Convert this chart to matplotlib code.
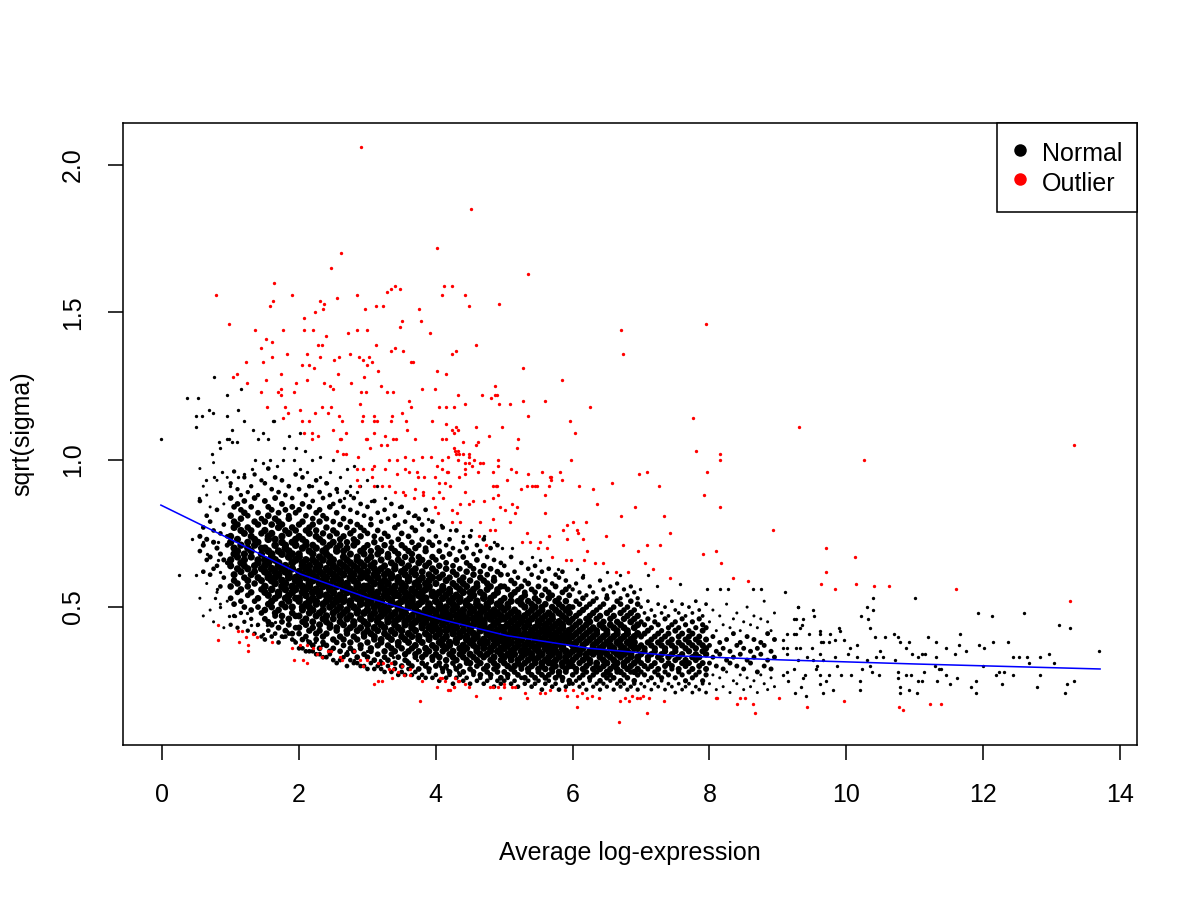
import numpy as np
import matplotlib
matplotlib.use("Agg")
import matplotlib.pyplot as plt
from matplotlib.lines import Line2D

plt.rcParams["font.family"] = ["Liberation Sans", "DejaVu Sans"]
plt.rcParams["font.size"] = 12

# dense body of the normal genes, read off column by column:
# (average log-expression, [sqrt(sigma) values in that column])
core_cols = [
    (0.55, [0.53, 0.69, 0.74, 0.86, 0.97]),
    (0.60, [0.47, 0.62, 0.71, 0.77, 0.91]),
    (0.65, [0.58, 0.66, 0.73, 0.81, 0.88]),
    (0.70, [0.49, 0.61, 0.67, 0.79, 0.84]),
    (0.75, [0.45, 0.63, 0.72, 0.76, 0.99]),
    (0.80, [0.55, 0.64, 0.70, 0.83, 0.93]),
    (0.85, [0.51, 0.57, 0.68, 0.75, 0.89]),
    (0.90, [0.43, 0.60, 0.66, 0.78, 0.85]),
    (0.95, [0.52, 0.65, 0.71, 0.74, 0.94]),
    (1.00, [0.44, 0.53, 0.57, 0.64, 0.66, 0.72, 0.74, 0.81, 0.87, 0.92]),
    (1.05, [0.47, 0.51, 0.59, 0.61, 0.68, 0.70, 0.77, 0.79, 0.84, 0.96]),
    (1.10, [0.43, 0.55, 0.58, 0.63, 0.67, 0.69, 0.73, 0.78, 0.85, 0.90]),
    (1.15, [0.48, 0.52, 0.56, 0.62, 0.65, 0.71, 0.76, 0.80, 0.83, 0.88]),
    (1.20, [0.45, 0.50, 0.60, 0.64, 0.66, 0.68, 0.75, 0.82, 0.86, 0.94]),
    (1.25, [0.42, 0.54, 0.57, 0.59, 0.63, 0.70, 0.72, 0.77, 0.81, 0.89]),
    (1.30, [0.46, 0.49, 0.55, 0.61, 0.67, 0.69, 0.74, 0.76, 0.84, 0.91]),
    (1.35, [0.41, 0.52, 0.58, 0.62, 0.64, 0.71, 0.73, 0.79, 0.87, 0.95]),
    (1.40, [0.44, 0.50, 0.53, 0.60, 0.65, 0.66, 0.72, 0.78, 0.82, 0.88]),
    (1.45, [0.40, 0.48, 0.56, 0.59, 0.63, 0.68, 0.70, 0.75, 0.80, 0.93]),
    (1.50, [0.39, 0.46, 0.49, 0.55, 0.57, 0.62, 0.64, 0.66, 0.70, 0.76, 0.79, 0.86, 0.92]),
    (1.55, [0.42, 0.45, 0.51, 0.54, 0.60, 0.61, 0.65, 0.69, 0.73, 0.74, 0.81, 0.84, 0.97]),
    (1.60, [0.40, 0.44, 0.50, 0.52, 0.56, 0.59, 0.63, 0.67, 0.68, 0.75, 0.78, 0.83, 0.90]),
    (1.65, [0.41, 0.47, 0.48, 0.53, 0.58, 0.60, 0.62, 0.66, 0.71, 0.73, 0.80, 0.87, 0.94]),
    (1.70, [0.38, 0.43, 0.49, 0.54, 0.55, 0.61, 0.64, 0.65, 0.69, 0.77, 0.79, 0.82, 0.89]),
    (1.75, [0.40, 0.45, 0.47, 0.51, 0.57, 0.59, 0.63, 0.68, 0.72, 0.74, 0.78, 0.85, 0.93]),
    (1.80, [0.40, 0.42, 0.50, 0.53, 0.56, 0.58, 0.62, 0.64, 0.70, 0.71, 0.76, 0.83, 0.88]),
    (1.85, [0.41, 0.44, 0.46, 0.52, 0.54, 0.60, 0.61, 0.67, 0.69, 0.75, 0.80, 0.81, 0.91]),
    (1.90, [0.39, 0.41, 0.48, 0.50, 0.55, 0.57, 0.63, 0.65, 0.68, 0.72, 0.77, 0.84, 0.87]),
    (1.95, [0.38, 0.43, 0.47, 0.53, 0.56, 0.59, 0.60, 0.66, 0.71, 0.73, 0.76, 0.82, 0.95]),
    (2.00, [0.36, 0.41, 0.43, 0.47, 0.52, 0.53, 0.58, 0.59, 0.62, 0.67, 0.68, 0.74, 0.78, 0.83, 0.90]),
    (2.05, [0.36, 0.39, 0.45, 0.49, 0.50, 0.55, 0.57, 0.61, 0.64, 0.65, 0.70, 0.73, 0.79, 0.85, 0.94]),
    (2.10, [0.35, 0.40, 0.44, 0.46, 0.51, 0.54, 0.56, 0.60, 0.63, 0.66, 0.71, 0.72, 0.76, 0.81, 0.88]),
    (2.15, [0.35, 0.38, 0.42, 0.48, 0.50, 0.52, 0.57, 0.58, 0.62, 0.64, 0.69, 0.75, 0.77, 0.84, 0.91]),
    (2.20, [0.35, 0.37, 0.43, 0.45, 0.49, 0.53, 0.55, 0.59, 0.61, 0.66, 0.68, 0.71, 0.78, 0.80, 0.86]),
    (2.25, [0.34, 0.39, 0.41, 0.47, 0.51, 0.52, 0.56, 0.60, 0.63, 0.65, 0.70, 0.74, 0.76, 0.82, 0.93]),
    (2.30, [0.34, 0.36, 0.42, 0.44, 0.48, 0.54, 0.55, 0.58, 0.62, 0.64, 0.67, 0.73, 0.79, 0.83, 0.89]),
    (2.35, [0.33, 0.38, 0.40, 0.46, 0.49, 0.51, 0.57, 0.59, 0.61, 0.66, 0.69, 0.72, 0.75, 0.81, 0.87]),
    (2.40, [0.33, 0.37, 0.41, 0.45, 0.47, 0.52, 0.54, 0.58, 0.60, 0.63, 0.68, 0.70, 0.77, 0.80, 0.92]),
    (2.45, [0.34, 0.35, 0.43, 0.44, 0.50, 0.53, 0.56, 0.57, 0.62, 0.65, 0.67, 0.71, 0.74, 0.84, 0.88]),
    (2.50, [0.32, 0.36, 0.39, 0.46, 0.48, 0.51, 0.55, 0.59, 0.61, 0.64, 0.66, 0.72, 0.76, 0.79, 0.85]),
    (2.55, [0.31, 0.38, 0.42, 0.43, 0.49, 0.52, 0.53, 0.57, 0.60, 0.63, 0.69, 0.70, 0.75, 0.82, 0.90]),
    (2.60, [0.32, 0.35, 0.40, 0.45, 0.47, 0.50, 0.54, 0.58, 0.59, 0.62, 0.65, 0.71, 0.73, 0.78, 0.86]),
    (2.65, [0.33, 0.37, 0.39, 0.44, 0.48, 0.52, 0.53, 0.56, 0.61, 0.64, 0.67, 0.69, 0.74, 0.80, 0.84]),
    (2.70, [0.30, 0.34, 0.41, 0.42, 0.46, 0.49, 0.55, 0.57, 0.58, 0.63, 0.66, 0.70, 0.72, 0.77, 0.89]),
    (2.75, [0.32, 0.36, 0.38, 0.43, 0.47, 0.51, 0.52, 0.56, 0.60, 0.62, 0.65, 0.68, 0.75, 0.79, 0.83]),
    (2.80, [0.31, 0.35, 0.40, 0.44, 0.45, 0.50, 0.54, 0.55, 0.59, 0.61, 0.64, 0.71, 0.73, 0.76, 0.87]),
    (2.85, [0.31, 0.33, 0.39, 0.42, 0.48, 0.49, 0.53, 0.57, 0.58, 0.63, 0.66, 0.67, 0.72, 0.78, 0.82]),
    (2.90, [0.30, 0.36, 0.37, 0.43, 0.46, 0.51, 0.52, 0.55, 0.60, 0.62, 0.65, 0.69, 0.74, 0.77, 0.85]),
    (2.95, [0.30, 0.34, 0.40, 0.41, 0.45, 0.48, 0.54, 0.56, 0.57, 0.61, 0.64, 0.68, 0.70, 0.76, 0.81]),
    (3.00, [0.29, 0.33, 0.38, 0.42, 0.44, 0.49, 0.51, 0.53, 0.57, 0.60, 0.62, 0.66, 0.71, 0.75, 0.84]),
    (3.05, [0.31, 0.35, 0.36, 0.41, 0.46, 0.47, 0.52, 0.55, 0.56, 0.59, 0.64, 0.67, 0.69, 0.78, 0.80]),
    (3.10, [0.29, 0.32, 0.39, 0.40, 0.43, 0.48, 0.50, 0.54, 0.58, 0.61, 0.63, 0.65, 0.72, 0.74, 0.86]),
    (3.15, [0.30, 0.34, 0.37, 0.42, 0.45, 0.46, 0.51, 0.53, 0.55, 0.60, 0.62, 0.68, 0.70, 0.76, 0.82]),
    (3.20, [0.29, 0.31, 0.38, 0.39, 0.44, 0.47, 0.49, 0.52, 0.57, 0.58, 0.63, 0.66, 0.69, 0.73, 0.79]),
    (3.25, [0.28, 0.33, 0.35, 0.41, 0.43, 0.48, 0.50, 0.54, 0.56, 0.59, 0.61, 0.64, 0.71, 0.75, 0.83]),
    (3.30, [0.30, 0.32, 0.37, 0.40, 0.45, 0.46, 0.49, 0.53, 0.55, 0.58, 0.62, 0.67, 0.68, 0.74, 0.80]),
    (3.35, [0.28, 0.34, 0.36, 0.39, 0.42, 0.47, 0.51, 0.52, 0.56, 0.60, 0.61, 0.65, 0.70, 0.72, 0.85]),
    (3.40, [0.29, 0.31, 0.35, 0.41, 0.44, 0.45, 0.48, 0.54, 0.55, 0.57, 0.63, 0.64, 0.69, 0.77, 0.81]),
    (3.45, [0.27, 0.33, 0.37, 0.38, 0.43, 0.46, 0.50, 0.51, 0.54, 0.59, 0.60, 0.66, 0.68, 0.73, 0.78]),
    (3.50, [0.28, 0.30, 0.36, 0.40, 0.42, 0.47, 0.49, 0.52, 0.56, 0.58, 0.62, 0.65, 0.71, 0.75, 0.84]),
    (3.55, [0.27, 0.32, 0.34, 0.39, 0.44, 0.45, 0.48, 0.53, 0.55, 0.57, 0.61, 0.63, 0.67, 0.70, 0.79]),
    (3.60, [0.29, 0.31, 0.35, 0.38, 0.41, 0.46, 0.50, 0.51, 0.54, 0.59, 0.60, 0.64, 0.69, 0.74, 0.82]),
    (3.65, [0.27, 0.30, 0.36, 0.40, 0.43, 0.44, 0.47, 0.52, 0.53, 0.56, 0.62, 0.66, 0.68, 0.72, 0.77]),
    (3.70, [0.28, 0.33, 0.34, 0.37, 0.42, 0.45, 0.49, 0.50, 0.55, 0.58, 0.61, 0.63, 0.70, 0.76, 0.81]),
    (3.75, [0.26, 0.29, 0.35, 0.39, 0.40, 0.46, 0.48, 0.51, 0.54, 0.57, 0.59, 0.65, 0.67, 0.71, 0.80]),
    (3.80, [0.27, 0.31, 0.33, 0.38, 0.43, 0.44, 0.47, 0.52, 0.53, 0.55, 0.60, 0.62, 0.66, 0.73, 0.78]),
    (3.85, [0.26, 0.30, 0.34, 0.36, 0.41, 0.45, 0.46, 0.49, 0.53, 0.56, 0.58, 0.64, 0.69, 0.70, 0.83]),
    (3.90, [0.28, 0.29, 0.35, 0.39, 0.40, 0.43, 0.48, 0.50, 0.51, 0.57, 0.59, 0.61, 0.65, 0.72, 0.76]),
    (3.95, [0.26, 0.32, 0.33, 0.37, 0.42, 0.44, 0.46, 0.49, 0.54, 0.55, 0.60, 0.63, 0.67, 0.71, 0.79]),
    (4.00, [0.27, 0.30, 0.34, 0.36, 0.40, 0.43, 0.45, 0.48, 0.52, 0.54, 0.58, 0.62, 0.66, 0.74]),
    (4.05, [0.25, 0.31, 0.33, 0.38, 0.41, 0.42, 0.46, 0.50, 0.51, 0.55, 0.60, 0.64, 0.69, 0.72]),
    (4.10, [0.28, 0.29, 0.35, 0.37, 0.39, 0.44, 0.47, 0.49, 0.53, 0.56, 0.57, 0.61, 0.67, 0.77]),
    (4.15, [0.26, 0.30, 0.32, 0.36, 0.40, 0.42, 0.45, 0.48, 0.50, 0.54, 0.59, 0.63, 0.65, 0.71]),
    (4.20, [0.27, 0.28, 0.34, 0.37, 0.38, 0.43, 0.46, 0.47, 0.52, 0.55, 0.56, 0.60, 0.68, 0.73]),
    (4.25, [0.24, 0.31, 0.33, 0.35, 0.41, 0.42, 0.44, 0.49, 0.51, 0.53, 0.58, 0.62, 0.64, 0.70]),
    (4.30, [0.26, 0.29, 0.32, 0.38, 0.39, 0.43, 0.45, 0.47, 0.50, 0.54, 0.57, 0.61, 0.66, 0.76]),
    (4.35, [0.27, 0.30, 0.34, 0.36, 0.40, 0.41, 0.46, 0.48, 0.52, 0.53, 0.56, 0.59, 0.63, 0.69]),
    (4.40, [0.25, 0.28, 0.33, 0.35, 0.37, 0.42, 0.44, 0.47, 0.49, 0.55, 0.58, 0.60, 0.67, 0.72]),
    (4.45, [0.26, 0.31, 0.32, 0.36, 0.39, 0.40, 0.45, 0.46, 0.51, 0.52, 0.57, 0.62, 0.65, 0.70]),
    (4.50, [0.24, 0.29, 0.31, 0.34, 0.38, 0.42, 0.43, 0.48, 0.50, 0.53, 0.55, 0.59, 0.64, 0.74]),
    (4.55, [0.27, 0.28, 0.33, 0.37, 0.39, 0.41, 0.44, 0.46, 0.49, 0.54, 0.56, 0.61, 0.63, 0.68]),
    (4.60, [0.25, 0.30, 0.32, 0.35, 0.36, 0.40, 0.45, 0.47, 0.51, 0.52, 0.57, 0.58, 0.66, 0.71]),
    (4.65, [0.26, 0.27, 0.31, 0.34, 0.38, 0.42, 0.43, 0.46, 0.48, 0.50, 0.55, 0.60, 0.62, 0.69]),
    (4.70, [0.24, 0.29, 0.33, 0.36, 0.37, 0.39, 0.44, 0.45, 0.49, 0.53, 0.54, 0.59, 0.64, 0.73]),
    (4.75, [0.25, 0.28, 0.30, 0.34, 0.38, 0.41, 0.42, 0.47, 0.50, 0.51, 0.56, 0.58, 0.61, 0.67]),
    (4.80, [0.26, 0.27, 0.32, 0.35, 0.36, 0.40, 0.43, 0.46, 0.48, 0.52, 0.53, 0.57, 0.63, 0.70]),
    (4.85, [0.23, 0.29, 0.31, 0.33, 0.37, 0.39, 0.41, 0.44, 0.47, 0.49, 0.54, 0.59, 0.60, 0.66]),
    (4.90, [0.25, 0.28, 0.30, 0.35, 0.38, 0.40, 0.42, 0.45, 0.48, 0.51, 0.55, 0.56, 0.62, 0.71]),
    (4.95, [0.24, 0.26, 0.32, 0.34, 0.36, 0.39, 0.43, 0.46, 0.47, 0.50, 0.52, 0.57, 0.61, 0.65]),
    (5.00, [0.25, 0.28, 0.31, 0.33, 0.36, 0.38, 0.41, 0.43, 0.46, 0.49, 0.53, 0.57, 0.64]),
    (5.05, [0.26, 0.27, 0.30, 0.34, 0.37, 0.39, 0.40, 0.44, 0.47, 0.50, 0.51, 0.56, 0.61]),
    (5.10, [0.24, 0.29, 0.32, 0.33, 0.35, 0.38, 0.42, 0.45, 0.48, 0.52, 0.54, 0.59, 0.67]),
    (5.15, [0.25, 0.28, 0.30, 0.34, 0.36, 0.40, 0.41, 0.43, 0.46, 0.49, 0.55, 0.58, 0.62]),
    (5.20, [0.23, 0.27, 0.31, 0.32, 0.37, 0.38, 0.42, 0.44, 0.47, 0.48, 0.52, 0.56, 0.60]),
    (5.25, [0.26, 0.29, 0.30, 0.33, 0.35, 0.39, 0.40, 0.45, 0.46, 0.51, 0.53, 0.57, 0.65]),
    (5.30, [0.24, 0.26, 0.31, 0.34, 0.36, 0.37, 0.41, 0.43, 0.47, 0.50, 0.54, 0.55, 0.59]),
    (5.35, [0.25, 0.28, 0.29, 0.32, 0.35, 0.38, 0.40, 0.44, 0.45, 0.48, 0.52, 0.58, 0.63]),
    (5.40, [0.23, 0.27, 0.30, 0.33, 0.34, 0.37, 0.41, 0.42, 0.46, 0.49, 0.51, 0.56, 0.61]),
    (5.45, [0.24, 0.26, 0.31, 0.32, 0.36, 0.39, 0.40, 0.43, 0.47, 0.50, 0.53, 0.55, 0.64]),
    (5.50, [0.25, 0.28, 0.29, 0.33, 0.35, 0.37, 0.41, 0.44, 0.45, 0.48, 0.52, 0.57, 0.60]),
    (5.55, [0.22, 0.27, 0.30, 0.31, 0.34, 0.38, 0.39, 0.42, 0.46, 0.49, 0.50, 0.54, 0.62]),
    (5.60, [0.24, 0.26, 0.29, 0.32, 0.36, 0.37, 0.40, 0.43, 0.44, 0.47, 0.51, 0.56, 0.59]),
    (5.65, [0.25, 0.27, 0.31, 0.33, 0.35, 0.38, 0.41, 0.42, 0.45, 0.48, 0.53, 0.55, 0.63]),
    (5.70, [0.23, 0.28, 0.29, 0.31, 0.34, 0.36, 0.39, 0.43, 0.46, 0.47, 0.50, 0.54, 0.58]),
    (5.75, [0.24, 0.26, 0.30, 0.32, 0.35, 0.37, 0.40, 0.41, 0.44, 0.49, 0.52, 0.57, 0.61]),
    (5.80, [0.22, 0.27, 0.28, 0.33, 0.34, 0.38, 0.39, 0.42, 0.45, 0.48, 0.51, 0.53, 0.60]),
    (5.85, [0.25, 0.26, 0.30, 0.31, 0.36, 0.37, 0.40, 0.43, 0.44, 0.47, 0.50, 0.55, 0.62]),
    (5.90, [0.23, 0.28, 0.29, 0.32, 0.33, 0.35, 0.39, 0.41, 0.46, 0.49, 0.52, 0.56, 0.59]),
    (5.95, [0.24, 0.25, 0.30, 0.31, 0.34, 0.38, 0.40, 0.42, 0.45, 0.48, 0.50, 0.54, 0.57]),
    (6.00, [0.24, 0.27, 0.30, 0.32, 0.35, 0.37, 0.40, 0.43, 0.46, 0.50, 0.56]),
    (6.05, [0.25, 0.28, 0.29, 0.33, 0.36, 0.38, 0.41, 0.44, 0.47, 0.52, 0.58]),
    (6.10, [0.23, 0.26, 0.31, 0.34, 0.35, 0.39, 0.42, 0.45, 0.48, 0.51, 0.55]),
    (6.15, [0.24, 0.27, 0.29, 0.32, 0.36, 0.37, 0.40, 0.43, 0.49, 0.53, 0.60]),
    (6.20, [0.22, 0.28, 0.30, 0.33, 0.34, 0.38, 0.41, 0.44, 0.46, 0.50, 0.54]),
    (6.25, [0.25, 0.26, 0.31, 0.32, 0.35, 0.39, 0.42, 0.45, 0.47, 0.51, 0.57]),
    (6.30, [0.23, 0.27, 0.29, 0.34, 0.36, 0.37, 0.40, 0.43, 0.48, 0.52, 0.55]),
    (6.35, [0.24, 0.28, 0.30, 0.31, 0.35, 0.38, 0.41, 0.42, 0.46, 0.49, 0.53]),
    (6.40, [0.22, 0.25, 0.29, 0.33, 0.34, 0.36, 0.39, 0.44, 0.47, 0.50, 0.59]),
    (6.45, [0.24, 0.27, 0.30, 0.32, 0.35, 0.37, 0.40, 0.43, 0.45, 0.51, 0.56]),
    (6.50, [0.23, 0.26, 0.28, 0.31, 0.34, 0.38, 0.41, 0.42, 0.48, 0.53, 0.54]),
    (6.55, [0.25, 0.27, 0.29, 0.33, 0.36, 0.37, 0.39, 0.44, 0.46, 0.49, 0.57]),
    (6.60, [0.22, 0.26, 0.30, 0.32, 0.35, 0.36, 0.40, 0.43, 0.47, 0.50, 0.55]),
    (6.65, [0.24, 0.28, 0.29, 0.31, 0.34, 0.38, 0.41, 0.42, 0.45, 0.52, 0.58]),
    (6.70, [0.23, 0.25, 0.28, 0.33, 0.35, 0.37, 0.39, 0.44, 0.48, 0.51, 0.53]),
    (6.75, [0.24, 0.27, 0.30, 0.31, 0.34, 0.36, 0.40, 0.43, 0.46, 0.49, 0.56]),
    (6.80, [0.22, 0.26, 0.29, 0.32, 0.35, 0.38, 0.41, 0.42, 0.47, 0.50, 0.54]),
    (6.85, [0.23, 0.28, 0.30, 0.33, 0.34, 0.37, 0.39, 0.45, 0.48, 0.52, 0.57]),
    (6.90, [0.24, 0.25, 0.28, 0.31, 0.36, 0.38, 0.40, 0.43, 0.46, 0.49, 0.55]),
    (6.95, [0.22, 0.27, 0.29, 0.32, 0.33, 0.36, 0.41, 0.44, 0.47, 0.51, 0.53]),
    (7.00, [0.24, 0.28, 0.31, 0.34, 0.37, 0.40, 0.45, 0.50]),
    (7.05, [0.23, 0.27, 0.30, 0.35, 0.36, 0.41, 0.44, 0.48]),
    (7.10, [0.25, 0.29, 0.32, 0.33, 0.38, 0.42, 0.46, 0.52]),
    (7.15, [0.22, 0.26, 0.30, 0.34, 0.37, 0.39, 0.43, 0.49]),
    (7.20, [0.24, 0.28, 0.31, 0.35, 0.36, 0.40, 0.45, 0.47]),
    (7.25, [0.23, 0.27, 0.29, 0.33, 0.38, 0.41, 0.44, 0.51]),
    (7.30, [0.25, 0.26, 0.32, 0.34, 0.37, 0.39, 0.42, 0.48]),
    (7.35, [0.22, 0.28, 0.30, 0.35, 0.36, 0.40, 0.46, 0.50]),
    (7.40, [0.24, 0.27, 0.31, 0.33, 0.38, 0.41, 0.43, 0.47]),
    (7.45, [0.23, 0.29, 0.30, 0.34, 0.37, 0.39, 0.44, 0.52]),
    (7.50, [0.21, 0.26, 0.32, 0.35, 0.36, 0.42, 0.45, 0.49]),
    (7.55, [0.24, 0.28, 0.29, 0.33, 0.38, 0.40, 0.43, 0.48]),
    (7.60, [0.22, 0.27, 0.31, 0.34, 0.37, 0.41, 0.46, 0.51]),
    (7.65, [0.23, 0.25, 0.30, 0.32, 0.36, 0.39, 0.44, 0.47]),
    (7.70, [0.24, 0.28, 0.31, 0.35, 0.38, 0.40, 0.42, 0.50]),
    (7.75, [0.21, 0.26, 0.29, 0.33, 0.37, 0.41, 0.45, 0.48]),
    (7.80, [0.23, 0.27, 0.32, 0.34, 0.36, 0.39, 0.43, 0.52]),
    (7.85, [0.22, 0.28, 0.30, 0.33, 0.38, 0.40, 0.46, 0.49]),
    (7.90, [0.24, 0.25, 0.31, 0.35, 0.37, 0.42, 0.44, 0.47]),
    (7.95, [0.21, 0.27, 0.29, 0.34, 0.36, 0.39, 0.43, 0.51]),
    (8.00, [0.24, 0.31, 0.37, 0.45]),
    (8.05, [0.27, 0.33, 0.40, 0.49]),
    (8.10, [0.22, 0.30, 0.35, 0.42]),
    (8.15, [0.26, 0.34, 0.38, 0.47]),
    (8.20, [0.23, 0.29, 0.36, 0.44]),
    (8.25, [0.28, 0.32, 0.39, 0.51]),
    (8.30, [0.21, 0.31, 0.35, 0.43]),
    (8.35, [0.25, 0.33, 0.41, 0.46]),
    (8.40, [0.24, 0.30, 0.37, 0.48]),
    (8.45, [0.27, 0.34, 0.38, 0.42]),
    (8.50, [0.22, 0.29, 0.36, 0.45]),
    (8.55, [0.26, 0.32, 0.40, 0.50]),
    (8.60, [0.23, 0.31, 0.35, 0.44]),
    (8.65, [0.25, 0.33, 0.39, 0.47]),
    (8.70, [0.21, 0.28, 0.36, 0.43]),
    (8.75, [0.27, 0.34, 0.38, 0.46]),
    (8.80, [0.24, 0.30, 0.37, 0.52]),
    (8.85, [0.22, 0.32, 0.41, 0.45]),
    (8.90, [0.26, 0.29, 0.35, 0.42]),
    (8.95, [0.23, 0.33, 0.39, 0.48]),
]

# scattered normal genes outside the dense body
normal_pts = [
    (-0.02, 1.07), (0.36, 1.21), (0.52, 1.21), (0.49, 1.15), (0.58, 1.15), (0.49, 1.11),
    (0.69, 1.17), (0.74, 1.16), (0.75, 1.28), (0.94, 1.22), (0.94, 1.15), (1.10, 1.17),
    (1.15, 1.24), (1.19, 1.13), (1.02, 1.10), (0.97, 1.07), (0.94, 1.07), (0.83, 1.06),
    (0.73, 1.02), (0.85, 1.04), (1.02, 1.06), (1.09, 1.06), (1.33, 1.10), (1.40, 1.07),
    (1.54, 1.07), (1.48, 1.09), (1.62, 1.13), (1.64, 1.13), (1.85, 1.08), (2.01, 1.09),
    (1.78, 1.04), (1.96, 1.04), (2.08, 1.03), (2.19, 1.00), (2.31, 1.01), (2.45, 0.96),
    (2.50, 1.00), (2.70, 0.97), (2.80, 0.98), (2.60, 0.94), (2.75, 0.91), (2.89, 0.91),
    (2.99, 0.93), (3.14, 0.91), (2.75, 0.88), (2.84, 0.89), (0.54, 0.87), (0.64, 0.93),
    (0.76, 0.94), (0.87, 0.96), (0.99, 0.91), (1.10, 0.94), (1.19, 0.95), (1.31, 0.97),
    (1.36, 1.00), (1.48, 0.99), (1.58, 1.00), (1.68, 0.98), (1.77, 1.00), (1.92, 1.00),
    (2.02, 0.97), (2.11, 0.96), (2.31, 0.94), (2.41, 0.92), (2.19, 0.91), (2.55, 0.89),
    (2.65, 0.87), (0.43, 0.73), (0.60, 0.72), (0.25, 0.61), (0.49, 0.61), (0.66, 0.68),
    (0.81, 0.72), (0.82, 0.66), (0.85, 0.62), (0.80, 0.56), (0.77, 0.53), (0.85, 0.50),
    (0.98, 0.47), (1.06, 0.47), (1.24, 0.48), (1.29, 0.44), (1.38, 0.44), (1.48, 0.41),
    (1.53, 0.44), (1.65, 0.45), (1.76, 0.40), (1.82, 0.42), (1.92, 0.39), (2.11, 0.39),
    (2.24, 0.38), (2.33, 0.37), (2.50, 0.36), (2.70, 0.35), (2.80, 0.32), (2.99, 0.35),
    (3.19, 0.32), (3.38, 0.33), (3.58, 0.32), (3.72, 0.32), (3.87, 0.31), (4.06, 0.30),
    (4.16, 0.29), (4.26, 0.30), (4.33, 0.28), (3.25, 0.87), (3.46, 0.84), (3.66, 0.81),
    (3.88, 0.80), (4.08, 0.78), (4.20, 0.76), (3.05, 0.86), (4.70, 0.74), (4.85, 0.72),
    (4.52, 0.76), (4.39, 0.74), (4.96, 0.70), (5.11, 0.70), (5.40, 0.67), (5.52, 0.66),
    (5.79, 0.63), (6.06, 0.63), (6.15, 0.61), (6.50, 0.62), (6.69, 0.61), (6.98, 0.56),
    (7.10, 0.61), (7.23, 0.57), (7.57, 0.58), (7.96, 0.56), (8.15, 0.56), (8.27, 0.56),
    (8.64, 0.56), (8.76, 0.56), (9.10, 0.55), (9.30, 0.50),
    (9.30, 0.50), (9.52, 0.49), (9.53, 0.47), (9.23, 0.46), (9.26, 0.46), (9.37, 0.46),
    (9.35, 0.44), (9.33, 0.43), (9.23, 0.41), (9.26, 0.41), (9.08, 0.39), (9.14, 0.41),
    (9.46, 0.41), (9.61, 0.42), (9.61, 0.41), (9.76, 0.41), (9.90, 0.43), (9.91, 0.42),
    (9.97, 0.39), (9.83, 0.39), (9.74, 0.38), (9.63, 0.38), (9.66, 0.38), (9.50, 0.36),
    (9.27, 0.36), (9.32, 0.36), (9.13, 0.36), (9.07, 0.36), (9.13, 0.34), (9.30, 0.32),
    (9.42, 0.33), (9.52, 0.32), (9.57, 0.30), (9.61, 0.34), (9.66, 0.32), (9.84, 0.33),
    (10.03, 0.34), (10.15, 0.33), (10.05, 0.36), (10.15, 0.37), (10.22, 0.47), (10.31, 0.50),
    (10.32, 0.46), (10.35, 0.43), (10.39, 0.53), (10.39, 0.49), (10.42, 0.40), (10.56, 0.40),
    (10.49, 0.35), (10.44, 0.33), (10.31, 0.32), (10.35, 0.30), (10.53, 0.33), (10.23, 0.29),
    (10.37, 0.28), (10.48, 0.27), (10.20, 0.25), (10.20, 0.22), (10.07, 0.27), (9.92, 0.27),
    (9.86, 0.30), (9.75, 0.27), (9.61, 0.27), (9.71, 0.25), (9.62, 0.24), (9.56, 0.29),
    (9.40, 0.27), (9.36, 0.26), (9.23, 0.29), (9.13, 0.28), (9.08, 0.27), (9.15, 0.25),
    (9.25, 0.21), (9.34, 0.23), (9.41, 0.20), (9.66, 0.21), (9.80, 0.22),
    (10.70, 0.41), (10.76, 0.40), (10.71, 0.32), (10.75, 0.28), (10.88, 0.27), (10.94, 0.27),
    (10.76, 0.26), (10.78, 0.23), (10.78, 0.21), (10.92, 0.22), (11.04, 0.21), (10.79, 0.38),
    (10.91, 0.38), (10.87, 0.36), (10.96, 0.34), (11.05, 0.33), (11.10, 0.34), (11.15, 0.34),
    (11.00, 0.53), (11.20, 0.40), (11.31, 0.38), (11.31, 0.33), (11.30, 0.30), (11.36, 0.29),
    (11.38, 0.29), (11.46, 0.27), (11.14, 0.28), (11.10, 0.25), (11.05, 0.25), (11.32, 0.25),
    (11.51, 0.24), (11.46, 0.36), (11.59, 0.34), (11.65, 0.37), (11.66, 0.41), (11.62, 0.26),
    (11.75, 0.35), (11.83, 0.23), (11.89, 0.25), (11.89, 0.21), (11.93, 0.48), (12.13, 0.47),
    (11.94, 0.37), (12.01, 0.36), (12.14, 0.38), (12.00, 0.30), (12.19, 0.27), (12.23, 0.28),
    (12.27, 0.24), (12.31, 0.28), (12.36, 0.38), (12.44, 0.27), (12.43, 0.33), (12.52, 0.33),
    (12.64, 0.33), (12.67, 0.31), (12.60, 0.48), (12.83, 0.33), (12.97, 0.34), (12.83, 0.27),
    (13.03, 0.31), (13.11, 0.44), (13.27, 0.43), (13.33, 0.25), (13.22, 0.24), (13.20, 0.21),
    (13.70, 0.35), (12.79, 0.23),
]

# genes flagged as outliers (red)
outlier_pts = [
    (2.90, 2.06), (2.61, 1.70), (4.01, 1.72), (2.47, 1.65), (1.64, 1.60), (0.79, 1.56),
    (1.90, 1.56), (1.62, 1.54), (1.57, 1.52), (2.31, 1.54), (2.37, 1.53), (2.35, 1.51),
    (2.56, 1.55), (2.23, 1.50), (2.85, 1.56), (2.96, 1.51), (3.28, 1.57), (3.34, 1.58),
    (3.40, 1.59), (3.48, 1.58), (3.13, 1.52), (3.22, 1.52), (3.75, 1.51), (4.12, 1.59),
    (4.24, 1.59), (4.09, 1.56), (0.98, 1.46), (1.36, 1.44), (1.51, 1.41), (1.45, 1.38),
    (1.61, 1.40), (1.77, 1.44), (2.07, 1.48), (2.07, 1.44), (2.20, 1.44), (2.39, 1.42),
    (2.28, 1.39), (2.33, 1.39), (2.11, 1.36), (1.83, 1.36), (1.61, 1.35), (1.48, 1.33),
    (1.22, 1.33), (2.30, 1.35), (2.51, 1.34), (2.59, 1.35), (2.74, 1.36), (2.71, 1.43),
    (2.84, 1.44), (2.99, 1.44), (3.13, 1.39), (2.87, 1.35), (3.02, 1.35), (2.93, 1.34),
    (3.07, 1.33), (3.00, 1.32), (3.51, 1.47), (3.48, 1.45), (3.78, 1.47), (3.91, 1.43),
    (3.35, 1.37), (3.40, 1.38), (3.52, 1.37), (3.63, 1.33), (3.66, 1.33), (4.24, 1.36),
    (4.30, 1.37), (2.05, 1.32), (2.14, 1.32), (2.22, 1.31),
    (4.52, 1.85), (5.34, 1.63), (4.42, 1.56), (4.49, 1.52), (4.93, 1.53), (6.71, 1.44),
    (7.95, 1.46), (6.74, 1.36), (4.59, 1.39), (4.15, 1.29), (5.27, 1.31), (5.85, 1.27),
    (4.87, 1.25), (4.89, 1.22), (4.86, 1.22), (4.67, 1.22), (4.81, 1.21), (4.42, 1.19),
    (4.93, 1.19), (5.08, 1.19), (5.28, 1.20), (5.60, 1.20), (6.26, 1.18), (4.15, 1.18),
    (5.35, 1.15), (5.96, 1.13), (6.03, 1.09), (7.76, 1.14), (9.31, 1.11), (7.81, 1.03),
    (8.15, 1.02), (8.16, 1.00), (7.97, 0.96), (7.09, 0.96), (6.97, 0.95), (7.26, 0.91),
    (6.58, 0.92), (5.97, 1.00), (5.18, 1.04), (5.20, 1.07), (4.77, 1.08), (4.96, 1.11),
    (4.58, 1.11), (4.15, 1.12), (4.30, 1.11), (4.24, 1.10), (4.09, 1.07), (4.15, 1.07),
    (4.40, 1.06), (4.58, 1.05), (4.61, 1.06), (4.27, 1.04), (4.32, 1.03), (4.29, 1.02),
    (4.34, 1.02), (4.40, 1.02), (4.49, 1.02), (4.17, 1.01), (4.48, 1.01), (4.56, 1.00),
    (4.49, 0.99), (4.42, 0.99), (4.53, 0.98), (4.65, 0.99), (4.69, 0.99), (4.91, 1.00),
    (4.91, 0.98), (5.10, 0.97), (5.17, 0.96), (4.09, 0.97), (4.17, 0.96), (4.42, 0.97),
    (4.43, 0.95), (4.62, 0.96), (4.83, 0.96), (5.35, 0.95), (5.55, 0.96), (5.81, 0.96),
    (5.68, 0.94), (5.84, 0.93), (5.69, 0.93), (5.67, 0.94), (4.34, 0.94), (4.13, 0.92),
    (4.21, 0.91), (5.04, 0.93), (4.83, 0.91), (4.88, 0.91), (4.90, 0.91), (5.24, 0.90),
    (5.33, 0.91), (5.41, 0.91), (5.45, 0.91), (5.48, 0.91), (5.65, 0.91), (6.09, 0.91),
    (6.29, 0.90), (10.26, 1.00), (13.33, 1.05),
    (7.92, 0.88), (8.16, 0.84), (6.91, 0.84), (6.36, 0.85), (6.71, 0.81), (7.34, 0.81),
    (7.43, 0.75), (6.48, 0.74), (6.74, 0.71), (7.09, 0.71), (7.28, 0.71), (6.95, 0.69),
    (7.90, 0.68), (8.10, 0.69), (8.17, 0.65), (7.05, 0.65), (7.18, 0.63), (6.81, 0.62),
    (6.64, 0.62), (6.45, 0.65), (6.32, 0.65), (7.43, 0.60), (8.34, 0.60), (8.57, 0.59),
    (8.93, 0.76), (4.23, 0.83), (4.31, 0.82), (4.43, 0.89), (4.49, 0.85), (4.55, 0.86),
    (4.70, 0.86), (4.84, 0.87), (4.91, 0.88), (4.94, 0.84), (5.01, 0.83), (5.11, 0.85),
    (5.18, 0.84), (5.16, 0.82), (4.84, 0.80), (4.79, 0.76), (4.87, 0.76), (4.65, 0.79),
    (5.09, 0.79), (5.26, 0.72), (5.38, 0.72), (5.33, 0.75), (5.52, 0.72), (5.50, 0.70),
    (5.62, 0.70), (5.65, 0.74), (5.70, 0.67), (5.59, 0.82), (5.59, 0.88), (5.86, 0.76),
    (5.91, 0.78), (6.01, 0.79), (6.06, 0.76), (6.08, 0.75), (6.15, 0.73), (5.92, 0.73),
    (6.21, 0.69), (6.16, 0.66), (5.90, 0.66), (5.97, 0.66), (6.20, 0.79), (4.63, 0.74),
    (4.74, 0.71), (4.35, 0.79),
    (4.06, 0.26), (4.18, 0.22), (4.27, 0.23), (4.28, 0.26), (4.34, 0.25), (4.43, 0.24),
    (4.49, 0.23), (4.59, 0.20), (4.79, 0.23), (4.84, 0.23), (4.91, 0.23), (4.99, 0.23),
    (4.94, 0.19), (4.99, 0.24), (5.11, 0.23), (5.16, 0.23), (5.30, 0.21), (5.33, 0.19),
    (5.52, 0.21), (5.60, 0.21), (5.67, 0.22), (5.89, 0.22), (5.91, 0.20), (6.01, 0.22),
    (6.07, 0.20), (6.06, 0.16), (6.13, 0.21), (6.21, 0.19), (6.28, 0.20), (6.38, 0.19),
    (6.68, 0.11), (6.69, 0.18), (6.77, 0.19), (6.83, 0.18), (6.86, 0.20), (6.94, 0.19),
    (6.98, 0.19), (7.03, 0.20), (7.08, 0.14), (7.12, 0.19), (7.33, 0.18), (8.10, 0.19),
    (8.11, 0.19), (8.40, 0.17), (8.45, 0.19), (8.52, 0.19), (8.64, 0.17), (8.66, 0.14),
    (9.02, 0.19),
    (9.70, 0.70), (10.13, 0.67), (9.71, 0.62), (9.63, 0.58), (10.14, 0.58), (9.84, 0.56),
    (10.40, 0.57), (10.63, 0.57), (11.60, 0.56), (13.27, 0.52), (9.42, 0.16), (9.97, 0.18),
    (10.77, 0.16), (10.83, 0.15), (11.23, 0.17), (11.39, 0.17),
    (4.01, 1.30), (1.09, 1.29), (1.03, 1.28), (1.24, 1.26), (1.52, 1.27), (1.74, 1.29),
    (1.96, 1.26), (1.92, 1.23), (2.12, 1.27), (2.37, 1.26), (2.45, 1.25), (2.57, 1.29),
    (2.50, 1.24), (2.76, 1.26), (2.95, 1.28), (2.91, 1.23), (2.98, 1.23), (3.15, 1.30),
    (3.20, 1.25), (3.28, 1.23), (3.38, 1.23), (3.60, 1.20), (3.63, 1.18), (3.79, 1.24),
    (3.98, 1.24), (1.44, 1.23), (1.69, 1.23), (1.74, 1.24), (1.73, 1.22), (1.53, 1.18),
    (1.80, 1.18), (2.02, 1.17), (1.84, 1.16), (1.77, 1.14), (2.04, 1.13), (2.14, 1.13),
    (2.24, 1.16), (2.34, 1.18), (2.47, 1.18), (2.42, 1.16), (2.58, 1.15), (2.63, 1.13),
    (2.89, 1.19), (2.93, 1.15), (2.92, 1.13), (3.09, 1.15), (3.10, 1.13), (3.14, 1.13),
    (3.36, 1.15), (3.57, 1.13), (3.34, 1.13), (3.51, 1.16), (3.95, 1.13), (4.05, 1.18),
    (4.26, 1.18), (4.33, 1.22), (4.26, 1.09), (4.33, 1.10), (3.58, 1.10), (3.70, 1.07),
    (3.41, 1.07), (3.38, 1.07), (3.25, 1.08), (3.09, 1.09), (3.00, 1.07), (2.98, 1.07),
    (3.04, 1.04), (3.20, 1.05), (3.29, 1.05), (2.68, 1.09), (2.60, 1.07), (2.62, 1.07),
    (2.50, 1.10), (2.28, 1.08), (2.19, 1.07), (2.07, 1.09), (2.19, 1.09), (2.55, 1.03),
    (2.64, 1.02), (2.69, 1.02), (2.86, 1.01), (2.84, 0.97), (2.94, 0.97), (3.09, 0.98),
    (3.07, 0.97), (3.25, 0.97), (3.31, 1.00), (3.43, 1.00), (3.55, 1.01), (3.55, 0.97),
    (3.67, 1.00), (3.80, 1.01), (3.93, 1.01), (4.01, 0.98), (4.09, 1.00), (4.28, 1.03),
    (4.33, 1.00), (3.43, 0.95), (3.61, 0.96), (3.72, 0.96), (3.74, 0.94), (3.82, 0.94),
    (3.99, 0.94), (4.04, 0.92), (4.16, 0.96), (3.31, 0.91), (3.21, 0.91), (2.88, 0.91),
    (2.84, 0.93), (3.09, 0.91), (3.06, 0.94), (3.52, 0.89), (3.70, 0.90), (3.81, 0.89),
    (3.81, 0.88), (3.40, 0.89), (3.55, 0.88), (3.68, 0.87), (4.04, 0.89), (4.11, 0.87),
    (4.35, 0.85), (4.03, 0.82), (3.99, 0.84), (4.23, 0.79), (3.96, 0.87),
    (0.82, 0.44), (0.82, 0.39), (1.10, 0.42), (1.17, 0.42), (1.22, 0.40), (1.12, 0.38),
    (1.26, 0.37), (1.25, 0.35), (1.33, 0.41), (1.39, 0.40), (1.60, 0.38), (1.89, 0.36),
    (1.92, 0.32), (2.02, 0.37), (2.06, 0.32), (2.11, 0.31), (2.12, 0.37), (2.21, 0.36),
    (2.26, 0.34), (2.31, 0.36), (2.33, 0.33), (2.43, 0.35), (2.46, 0.35), (2.60, 0.33),
    (2.63, 0.32), (2.80, 0.35), (2.89, 0.32), (2.93, 0.30), (2.99, 0.32), (3.15, 0.31),
    (3.23, 0.31), (3.31, 0.29), (3.34, 0.31), (3.38, 0.29), (3.44, 0.28), (3.50, 0.30),
    (3.62, 0.27), (3.62, 0.29), (3.09, 0.24), (3.16, 0.25), (3.21, 0.25), (3.36, 0.26),
    (3.53, 0.27), (3.79, 0.25), (3.77, 0.18), (4.01, 0.23), (4.09, 0.26), (4.14, 0.25),
    (4.21, 0.22), (4.27, 0.23), (4.33, 0.25),
]

# fitted trend (blue line)
trend_x = [-0.02, 0.85, 2.02, 3.00, 4.06, 5.04, 6.25, 7.47, 9.03, 11.00, 13.71]
trend_y = [0.846, 0.747, 0.612, 0.532, 0.459, 0.403, 0.360, 0.335, 0.321, 0.307, 0.290]

x_ticks = [0, 2, 4, 6, 8, 10, 12, 14]
y_ticks = [0.5, 1.0, 1.5, 2.0]
y_labels = ["0.5", "1.0", "1.5", "2.0"]

fig = plt.figure(figsize=(8, 6), dpi=150)
ax = fig.add_axes([0.1025, 0.1722, 0.845, 0.691])

# dots near the middle of each column are drawn bigger so the overplotted
# core reads as solid while the fringes stay speckled
cx, cy, cs = [], [], []
for x, ys in core_cols:
    n = len(ys)
    base = 14.5 if n >= 13 else 12.5 if n >= 10 else 9.5 if n >= 8 else 6.0
    for i, y in enumerate(sorted(ys)):
        f = abs(2.0 * i / (n - 1) - 1.0)
        cx.append(x)
        cy.append(y)
        cs.append(base * (1.0 - 0.65 * f ** 2))
nx, ny = zip(*normal_pts)
ox, oy = zip(*outlier_pts)

ax.scatter(cx, cy, s=cs, c="black", linewidths=0)
ax.scatter(nx, ny, s=2.6, c="black", linewidths=0)
ax.scatter(ox, oy, s=2.6, c="red", linewidths=0)
ax.plot(trend_x, trend_y, color="blue", lw=0.75)

ax.set_xlim(-0.574, 14.25)
ax.set_ylim(0.032, 2.142)
ax.set_xticks(x_ticks)
ax.set_yticks(y_ticks)
ax.set_yticklabels(y_labels)
ax.tick_params(direction="out", length=7.2, width=0.75, pad=11, labelsize=12)
for lab in ax.get_yticklabels():
    lab.set_rotation(90)
    lab.set_va("center")
for sp in ax.spines.values():
    sp.set_linewidth(0.75)

ax.set_xlabel("Average log-expression")
ax.xaxis.set_label_coords(0.5, -0.1736)
ax.xaxis.label.set_va("center")
ax.set_ylabel("sqrt(sigma)")
ax.yaxis.set_label_coords(-0.0996, 0.5)
ax.yaxis.label.set_va("center")

handles = [
    Line2D([], [], marker="o", ls="", color="black", markersize=5),
    Line2D([], [], marker="o", ls="", color="red", markersize=5),
]
leg = ax.legend(handles, ["Normal", "Outlier"], loc="upper right", borderaxespad=0,
                fancybox=False, edgecolor="black", framealpha=1, borderpad=0.6,
                handlelength=0.64, handleheight=1.45, handletextpad=0.55,
                labelspacing=0.0, fontsize=12)
leg.get_frame().set_linewidth(0.75)

fig.savefig("out.png", dpi=150)
